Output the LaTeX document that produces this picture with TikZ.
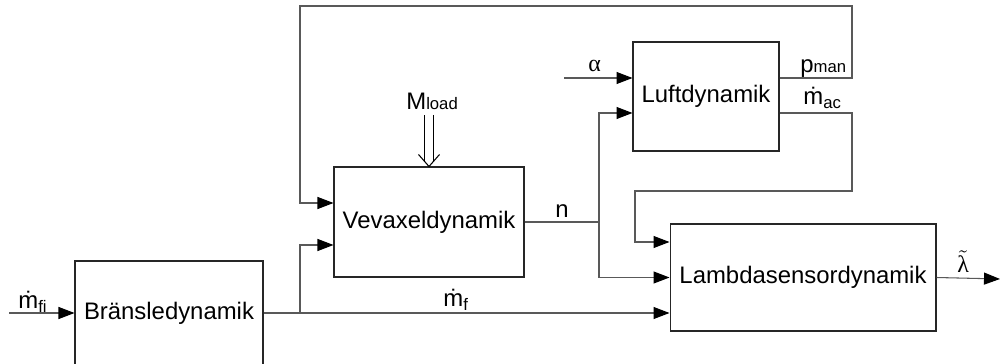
\documentclass[tikz,border=0pt]{standalone}
\usepackage{fontspec}
\setmainfont{Liberation Sans}
\newfontfamily\grk{Liberation Serif}
\usetikzlibrary{arrows.meta,positioning}

\newcommand{\lo}[1]{{\fontsize{9.5}{10}\selectfont #1}}

\begin{document}
\begin{tikzpicture}[x=0.02cm,y=-0.02cm,font=\fontsize{13.6}{16}\selectfont,
  block/.style={draw=black!85,line width=0.6pt,inner sep=0pt},
  wire/.style={draw=black!65,line width=0.6pt},
  sig/.style={wire,-{Triangle[length=0.32cm,width=0.24cm,black]}},
  lbl/.style={inner sep=0pt,anchor=base west}]
  \useasboundingbox (0,0) rectangle (1000,364);

  % blocks
  \node[block,minimum width=3.76cm,minimum height=2.08cm] (brn) at (169,313) {Bränsledynamik};
  \node[block,minimum width=3.8cm,minimum height=2.2cm] (vev) at (429,222) {Vevaxeldynamik};
  \node[block,minimum width=2.92cm,minimum height=2.18cm] (luft) at (706,96.5) {Luftdynamik};
  \node[block,minimum width=5.32cm,minimum height=2.14cm] (lam) at (803,277.5) {Lambdasensordynamik};

  % free ends and corners
  \coordinate (mfi) at (9,313);
  \coordinate (j1) at (300,313);
  \coordinate (j2) at (599,222);
  \coordinate (alf) at (564,78);
  \coordinate (ld) at (429,115);
  \coordinate (out) at (1000,279);
  \coordinate (fbr) at (852,6);
  \coordinate (fbl) at (300,6);
  \coordinate (acr) at (852,191);
  \coordinate (acl) at (635,191);

  % signals
  \draw[sig] (mfi) -- (brn.west);
  \draw[sig] (brn.east) -- (lam.west |- brn.east);
  \draw[sig] (j1) |- ([yshift=-0.46cm]vev.west);
  \draw[wire] (vev.east) -- (j2);
  \draw[sig] (j2) |- ([yshift=-0.33cm]luft.west);
  \draw[sig] (j2) |- (lam.west);
  \draw[sig] (alf) -- (luft.west |- alf);
  \draw[sig] ([yshift=0.37cm]luft.east) -| (fbr) -- (fbl) |- ([yshift=0.38cm]vev.west);
  \draw[sig] ([yshift=-0.33cm]luft.east) -| (acr) -- (acl) |- ([yshift=0.71cm]lam.west);
  \draw[sig] (lam.east) -- (out);
  % load torque: double shaft with open head
  \draw[black,line width=0.6pt,double distance=4.2pt] (ld) -- ([yshift=0.08cm]vev.north);
  \draw[black,line width=0.6pt] ([shift={(-0.21cm,0.24cm)}]vev.north) -- (vev.north)
    -- ([shift={(0.21cm,0.24cm)}]vev.north);

  % labels
  \node[lbl] (tmfi) at (18,309) {\.{m}\textsubscript{fi}};
  \node[lbl] (tload) at (406,110) {M\lo{load}};
  \node[lbl] (tn) at (555,218) {n};
  \node[lbl] (tmf) at (443,307) {\.{m}\textsubscript{f}};
  \node[lbl] (talf) at (588,72) {\grk α};
  \node[lbl] (tman) at (800,73) {p\lo{man}};
  \node[lbl] (tmac) at (803,105) {\.{m}\textsubscript{ac}};
  \node[lbl] (tlam) at (957,273) {$\tilde{\mbox{\grk λ}}$};
\end{tikzpicture}
\end{document}
